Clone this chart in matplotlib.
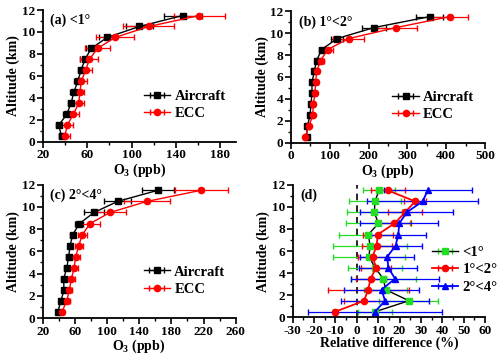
import numpy as np
import matplotlib
matplotlib.use('Agg')
import matplotlib.pyplot as plt
from matplotlib.ticker import MultipleLocator

plt.rcParams['font.family'] = ['Liberation Serif', 'DejaVu Serif']
plt.rcParams['font.weight'] = 'bold'
plt.rcParams['mathtext.fontset'] = 'custom'
plt.rcParams['mathtext.rm'] = 'Liberation Serif:bold'
plt.rcParams['mathtext.bf'] = 'Liberation Serif:bold'
plt.rcParams['axes.unicode_minus'] = False

alt = [0.5, 1.5, 2.5, 3.5, 4.5, 5.5, 6.5, 7.5, 8.5, 9.5, 10.5, 11.5]

# (a) <1 deg
a_air = [37, 34.4, 41.6, 45.5, 48, 51.5, 54.5, 58, 63.7, 78, 107, 146]
a_air_err = [2, 2, 3, 3, 3, 3, 3, 4, 5, 7, 12, 17]
a_ecc = [40, 42, 47.6, 52.4, 53.5, 54.7, 58.6, 62, 69.4, 85, 115.5, 161]
a_ecc_err = [5, 5, 5, 5, 4, 5, 6, 8, 11, 17, 23, 23]

# (b) 1-2 deg
b_air = [40, 42, 49, 51.5, 54, 54, 60, 66, 79, 119, 214, 358]
b_air_err = [3, 3, 3, 3, 3, 3, 4, 5, 8, 15, 30, 35]
b_ecc = [36, 46, 56, 57.5, 62, 63.5, 66, 76.5, 94.5, 149, 271, 410]
b_ecc_err = [3, 4, 4, 4, 5, 5, 6, 8, 15, 40, 55, 47]

# (c) 2-4 deg
c_air = [38.6, 42.4, 46.5, 46, 49.8, 52.3, 54, 57.3, 65.6, 83.8, 113.2, 163.3]
c_air_err = [2, 2, 3, 3, 3, 3, 3, 3, 5, 13, 17, 20]
c_ecc = [43.6, 49.8, 53, 55.6, 59, 61, 64.7, 69.3, 78.8, 103.7, 149.7, 217]
c_ecc_err = [3, 4, 4, 4, 5, 5, 5, 6, 12, 20, 29, 33]

# (d) relative difference (%)
d_lt1 = [8.5, 24.4, 13.5, 12.4, 8.5, 5.7, 6.2, 5.4, 10.1, 8.2, 8.5, 10.4]
d_lt1_err = [8, 13.8, 10, 15.3, 12.8, 16.7, 17.5, 13.6, 15, 13, 12, 7.4]
d_1to2 = [-10.2, 3.4, 5.3, 6.5, 9, 7.4, 9.3, 9.8, 17.6, 22.6, 27.3, 14.5]
d_1to2_err = [1, 9.5, 19, 7, 7, 7, 7, 7, 8, 8, 5, 8]
d_2to4 = [8.5, 13.2, 11.6, 17.9, 14.7, 14.3, 18.2, 19.4, 19.9, 23.3, 30.8, 33.2]
d_2to4_err = [31.2, 20.7, 17.6, 20.7, 13.6, 12.6, 12.2, 12.8, 18.3, 21.6, 25.8, 20.6]

fig = plt.figure(figsize=(5, 3.58), dpi=100)
axa = fig.add_axes([0.0854, 0.604, 0.3866, 0.368])
axb = fig.add_axes([0.582, 0.601, 0.388, 0.368])
axc = fig.add_axes([0.0854, 0.1117, 0.386, 0.3723])
axd = fig.add_axes([0.5854, 0.1137, 0.3846, 0.370])

fs = 9.5
lfs = 10


def style(ax):
    for s in ['top', 'right']:
        ax.spines[s].set_visible(False)
    for s in ['left', 'bottom']:
        ax.spines[s].set_linewidth(1.3)
    ax.tick_params(which='major', length=4, width=1.2, labelsize=fs, pad=1.5)
    ax.tick_params(which='minor', length=2.5, width=1)
    ax.set_ylim(0, 12)
    ax.yaxis.set_major_locator(MultipleLocator(2))
    ax.yaxis.set_minor_locator(MultipleLocator(1))
    ax.set_ylabel('Altitude (km)', fontsize=lfs, fontweight='bold', labelpad=1)


def profile(ax, air, air_err, ecc, ecc_err, title, xlim, xmaj, legpos):
    style(ax)
    h1 = ax.errorbar(air, alt, xerr=air_err, color='black', marker='s', ms=4.5,
                     lw=1, elinewidth=0.9, capsize=2, label='Aircraft')
    h2 = ax.errorbar(ecc, alt, xerr=ecc_err, color='red', marker='o', ms=4.5,
                     lw=1, elinewidth=0.9, capsize=2, label='ECC')
    ax.set_xlim(*xlim)
    ax.xaxis.set_major_locator(MultipleLocator(xmaj))
    ax.xaxis.set_minor_locator(MultipleLocator(xmaj / 2))
    ax.set_xlabel(r'O$_\mathbf{3}$ (ppb)', fontsize=lfs, fontweight='bold', labelpad=0)
    ax.text(0.04, 0.97, title, transform=ax.transAxes, fontsize=lfs,
            fontweight='bold', va='top', ha='left')
    ax.legend(handles=[h1, h2], loc='center left', bbox_to_anchor=legpos,
              frameon=False, fontsize=10.5, handlelength=1.8,
              handletextpad=0.3, labelspacing=0.3, borderpad=0.2)


profile(axa, a_air, a_air_err, a_ecc, a_ecc_err, u'(a) <1\u00b0',
        (20, 194), 40, (0.47, 0.28))
profile(axb, b_air, b_air_err, b_ecc, b_ecc_err, u'(b) 1\u00b0<2\u00b0',
        (0, 500), 100, (0.47, 0.28))
profile(axc, c_air, c_air_err, c_ecc, c_ecc_err, u'(c) 2\u00b0<4\u00b0',
        (20, 260), 40, (0.47, 0.28))
axa.set_xticks([20, 60, 100, 140, 180])
axc.set_xticks([20, 60, 100, 140, 180, 220, 260])

# (d)
style(axd)
axd.plot([0, 0], [0, 12], color='black', ls=(0, (4, 3)), lw=1.2)
h1 = axd.errorbar(d_lt1, alt, xerr=d_lt1_err, color='black', marker='s', ms=4.5,
                  mfc='#22dd22', mec='#22dd22', ecolor='#22dd22', lw=1,
                  elinewidth=0.9, capsize=2, label=u'<1\u00b0')
h2 = axd.errorbar(d_1to2, alt, xerr=d_1to2_err, color='red', marker='o', ms=4.5,
                  lw=1.3, elinewidth=0.9, capsize=2, label=u'1\u00b0<2\u00b0')
h3 = axd.errorbar(d_2to4, alt, xerr=d_2to4_err, color='blue', marker='^', ms=5,
                  lw=1.3, elinewidth=0.9, capsize=2, label=u'2\u00b0<4\u00b0')
axd.set_xlim(-30, 60)
axd.xaxis.set_major_locator(MultipleLocator(10))
axd.xaxis.set_minor_locator(MultipleLocator(5))
axd.set_xlabel('Relative difference (%)', fontsize=lfs, fontweight='bold', labelpad=0)
axd.text(0.04, 0.97, '(d)', transform=axd.transAxes, fontsize=lfs,
         fontweight='bold', va='top', ha='left')
axd.legend(handles=[h1, h2, h3], loc='center left', bbox_to_anchor=(0.67, 0.36),
           frameon=False, fontsize=10.5, handlelength=1.8,
           handletextpad=0.3, labelspacing=0.3, borderpad=0.2)

plt.savefig('out.png', dpi=100)
